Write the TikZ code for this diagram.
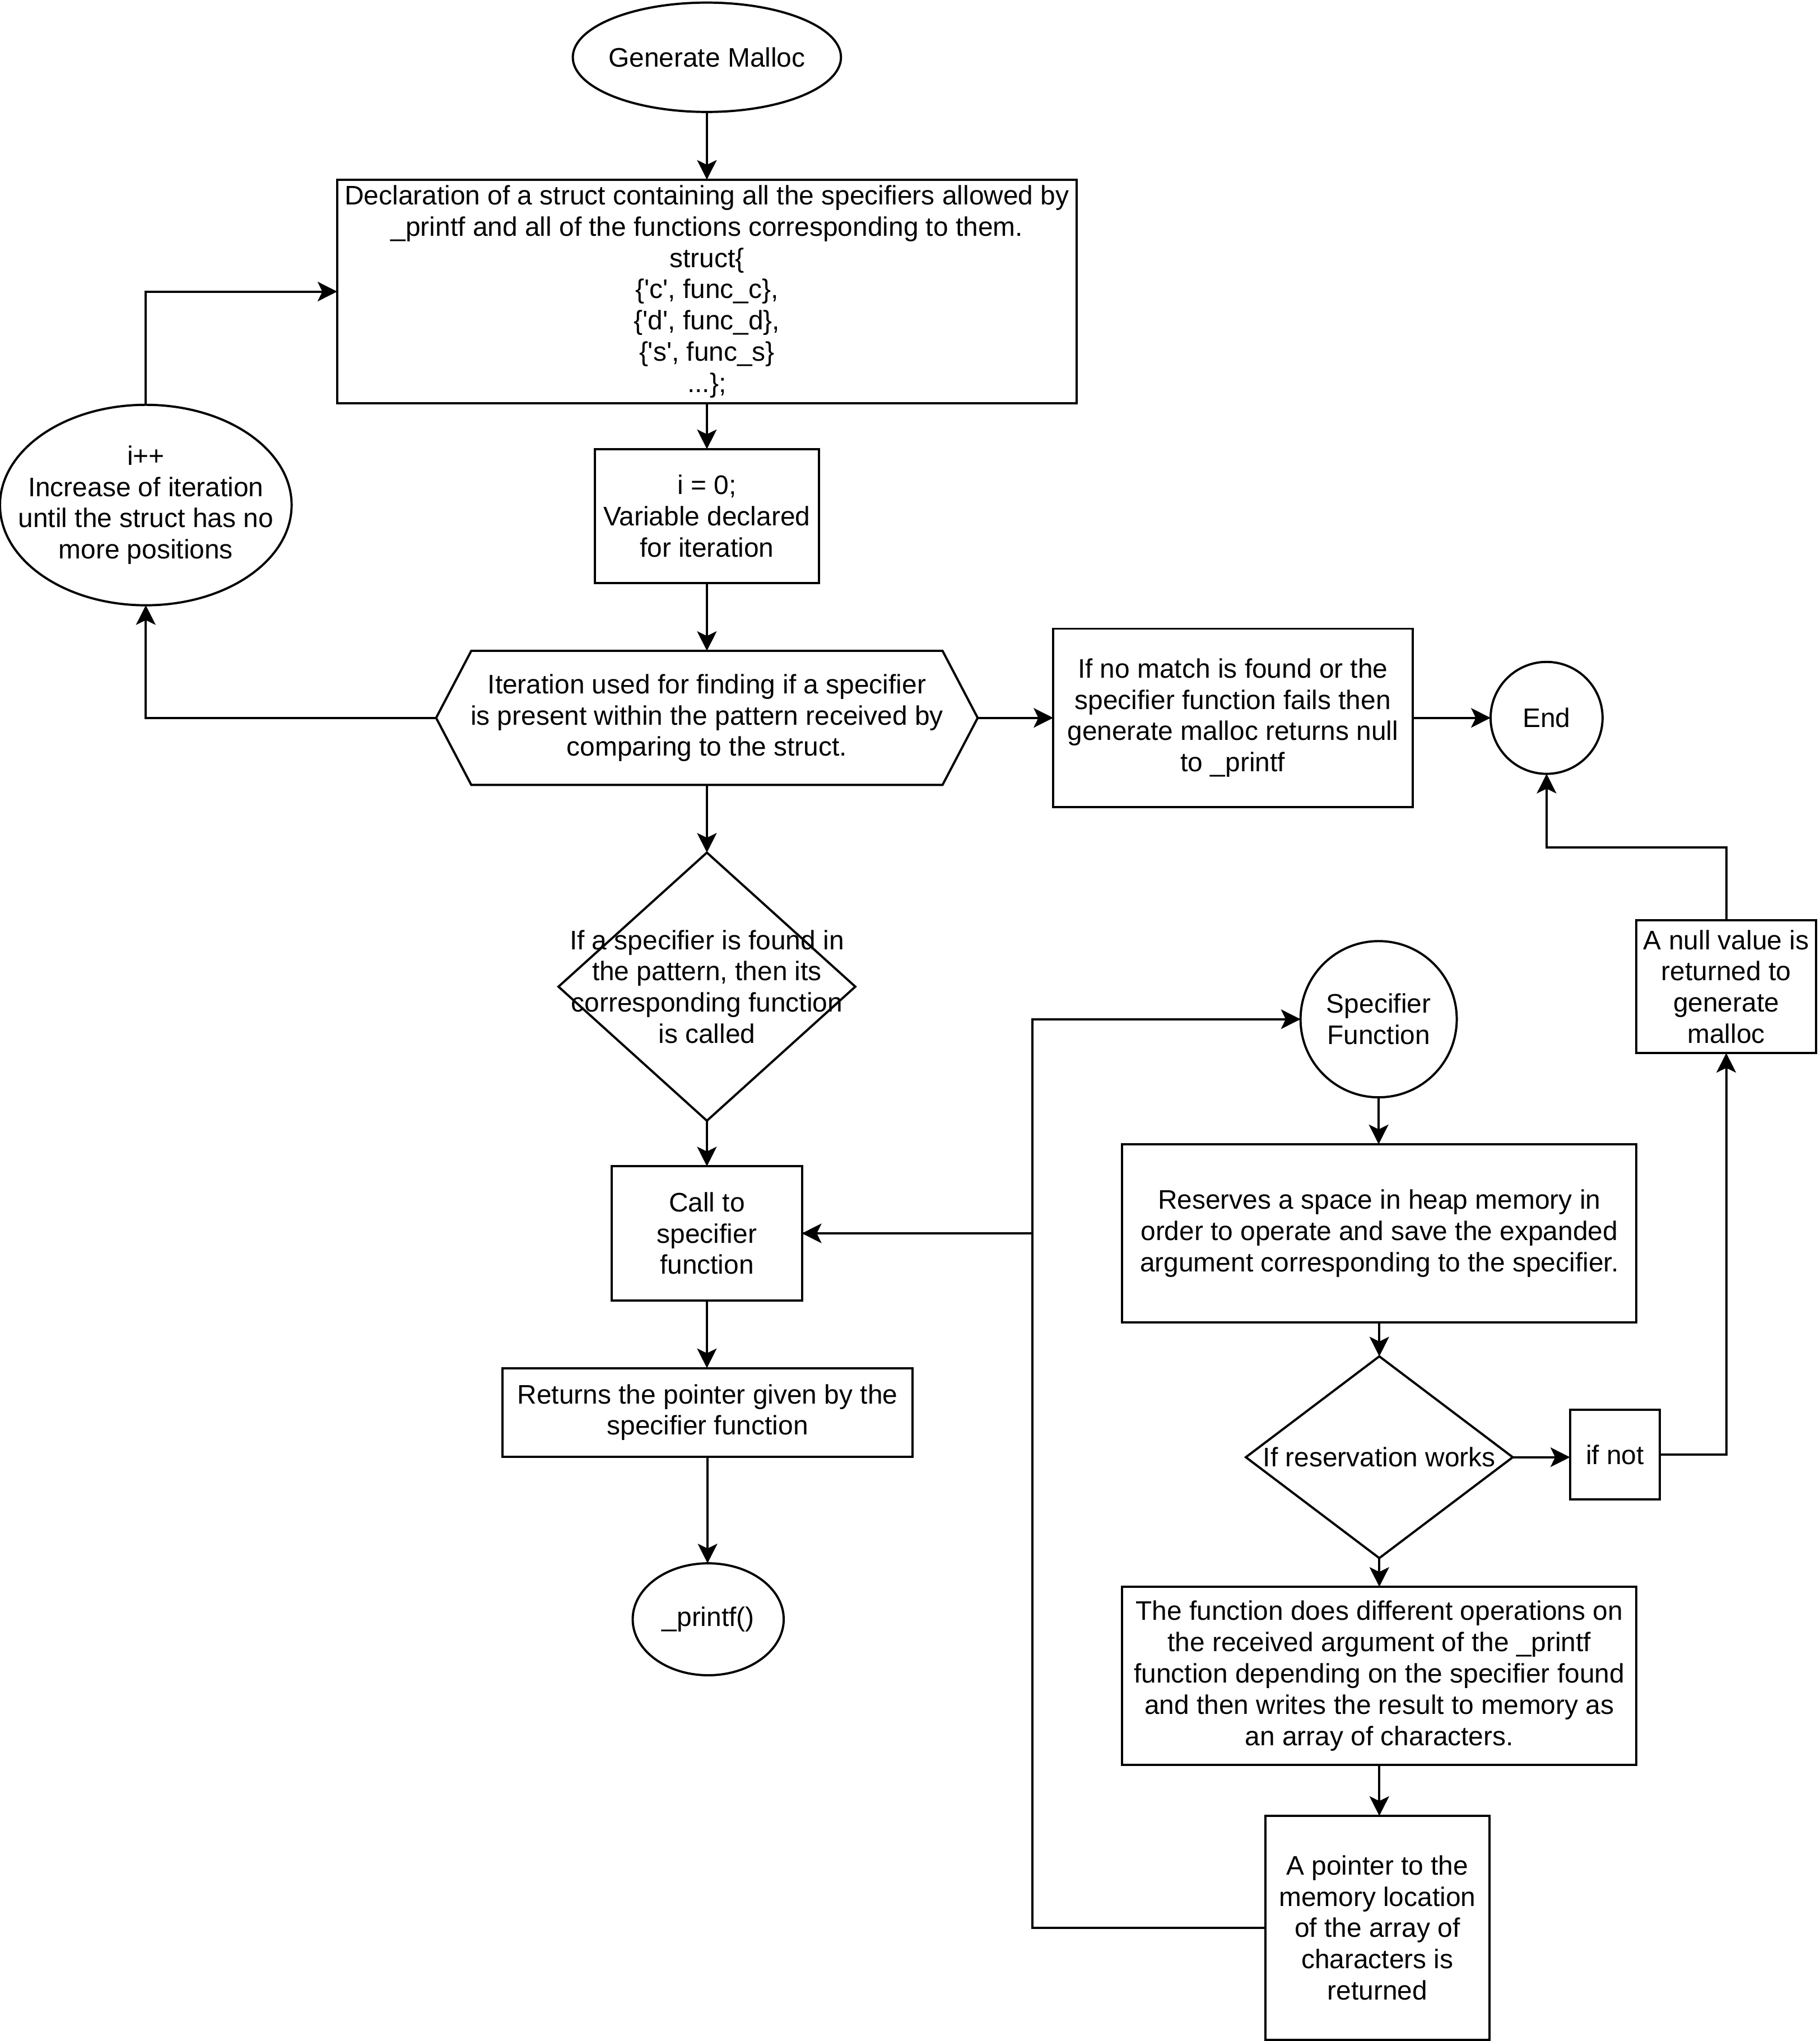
\documentclass[tikz,border=0pt]{standalone}
\usepackage{fontspec}
\setmainfont{Liberation Sans}
\usetikzlibrary{arrows.meta}
\newcommand{\fs}{\fontsize{10.3pt}{12pt}\selectfont}
\newcommand{\q}{\textquotesingle}
\tikzset{
  base/.style={font=\fs, align=center, inner sep=0pt, outer sep=0pt},
  box/.style={base, draw, line width=0.85pt},
  ghost/.style={base},
  conn/.style={line width=0.85pt, -{Stealth[length=7.5pt,width=7.5pt,inset=1.8pt]}},
  line/.style={line width=0.85pt},
}
\begin{document}
\begin{tikzpicture}[x=0.5pt,y=-0.5pt]
\useasboundingbox (0,0) rectangle (1398,1568);

% nodes
\node[ghost, minimum width=103pt, minimum height=42pt] (gm) at (543,44) {Generate Malloc};
\draw[line] (gm.center) ellipse [x radius=51.5pt, y radius=21pt];

\node[box, minimum width=284pt, minimum height=86pt] (decl) at (543,224)
  {Declaration of a struct containing all the specifiers allowed by\\
   \_printf and all of the functions corresponding to them.\\
   struct\{\\
   \{\q c\q, func\_c\},\\
   \{\q d\q, func\_d\},\\
   \{\q s\q, func\_s\}\\
   ...\};};

\node[box, minimum width=86pt, minimum height=51.5pt] (iz) at (543,396.5)
  {i = 0;\\Variable declared\\for iteration};

\node[ghost, minimum width=208pt, minimum height=51.5pt] (hex) at (543,551.5)
  {Iteration used for finding if a specifier\\is present within the pattern received by\\comparing to the struct.};
\draw[line] (hex.west) -- ([xshift=13.5pt]hex.north west) -- ([xshift=-13.5pt]hex.north east)
  -- (hex.east) -- ([xshift=-13.5pt]hex.south east) -- ([xshift=13.5pt]hex.south west) -- cycle;

\node[ghost, minimum width=112pt, minimum height=77pt] (inc) at (112,388)
  {i++\\Increase of iteration\\until the struct has no\\more positions};
\draw[line] (inc.center) ellipse [x radius=56pt, y radius=38.5pt];

\node[box, minimum width=138pt, minimum height=68.5pt] (nomatch) at (947,551.5)
  {If no match is found or the\\specifier function fails then\\generate malloc returns null\\to \_printf};

\node[ghost, minimum width=43pt, minimum height=43pt] (end) at (1188,551.5) {End};
\draw[line] (end.center) circle [radius=21.5pt];

\node[ghost, minimum width=114pt, minimum height=103pt] (d1) at (543,758)
  {If a specifier is found in\\the pattern, then its\\corresponding function\\is called};
\draw[line] (d1.north) -- (d1.east) -- (d1.south) -- (d1.west) -- cycle;

\node[box, minimum width=73pt, minimum height=51.5pt] (call) at (543,947.5)
  {Call to\\specifier\\function};

\node[box, minimum width=157.5pt, minimum height=34pt] (ret) at (543.5,1085)
  {Returns the pointer given by the\\specifier function};

\node[ghost, minimum width=58pt, minimum height=43pt] (pf) at (544,1244) {\_printf()};
\draw[line] (pf.center) ellipse [x radius=29pt, y radius=21.5pt];

\node[ghost, minimum width=60pt, minimum height=60pt] (spec) at (1059,783)
  {Specifier\\Function};
\draw[line] (spec.center) circle [radius=30pt];

\node[box, minimum width=197.5pt, minimum height=68.5pt] (res) at (1059.5,947.5)
  {Reserves a space in heap memory in\\order to operate and save the expanded\\argument corresponding to the specifier.};

\node[ghost, minimum width=102.5pt, minimum height=77.5pt] (d2) at (1059.5,1119.5)
  {If reservation works};
\draw[line] (d2.north) -- (d2.east) -- (d2.south) -- (d2.west) -- cycle;

\node[box, minimum width=34.5pt, minimum height=34.5pt] (ifnot) at (1240.5,1117.5) {if not};

\node[box, minimum width=69pt, minimum height=51pt] (null) at (1326,758)
  {A null value is\\returned to\\generate\\malloc};

\node[box, minimum width=197.5pt, minimum height=68.5pt] (func) at (1059.5,1287.5)
  {The function does different operations on\\the received argument of the \_printf\\function depending on the specifier found\\and then writes the result to memory as\\an array of characters.};

\node[box, minimum width=86pt, minimum height=86pt] (ptr) at (1058,1481)
  {A pointer to the\\memory location\\of the array of\\characters is\\returned};

\coordinate (j) at (793,947.5);

% connectors
\draw[conn] (gm.south) -- (decl.north);
\draw[conn] (decl.south) -- (iz.north);
\draw[conn] (iz.south) -- (hex.north);
\draw[conn] (hex.west) -| (inc.south);
\draw[conn] (inc.north) |- (decl.west);
\draw[conn] (hex.east) -- (nomatch.west);
\draw[conn] (nomatch.east) -- (end.west);
\draw[conn] (hex.south) -- (d1.north);
\draw[conn] (d1.south) -- (call.north);
\draw[conn] (call.south) -- (call.south |- ret.north);
\draw[conn] (ret.south) -- (ret.south |- pf.north);
\draw[conn] (call.east) -- (j) |- (spec.west);
\draw[conn] (ptr.west) -| (j) -- (call.east);
\draw[conn] (spec.south) -- (spec.south |- res.north);
\draw[conn] (res.south) -- (d2.north);
\draw[conn] (d2.east) -- (d2.east -| ifnot.west);
\draw[conn] (ifnot.east) -| (null.south);
\draw[conn] (null.north) -- (null.north |- 0,651) -| (end.south);
\draw[conn] (d2.south) -- (func.north);
\draw[conn] (func.south) -- (func.south |- ptr.north);
\end{tikzpicture}
\end{document}
